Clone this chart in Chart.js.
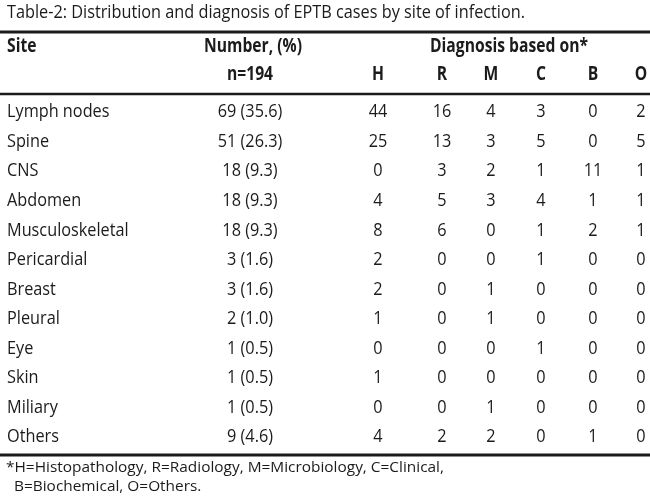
<!DOCTYPE html>
<html>
<head>
<meta charset="utf-8">
<script src="https://cdn.jsdelivr.net/npm/chart.js@4.4.1/dist/chart.umd.min.js"></script>
<style>
  html, body { margin: 0; padding: 0; background: #fff; }
  #wrap { width: 650px; height: 504px; }
</style>
</head>
<body>
<div id="wrap"><canvas id="table" width="650" height="504"></canvas></div>
<script>
// table data
const sites = ["Lymph nodes", "Spine", "CNS", "Abdomen", "Musculoskeletal", "Pericardial",
  "Breast", "Pleural", "Eye", "Skin", "Miliary", "Others"];
const counts = [69, 51, 18, 18, 18, 3, 3, 2, 1, 1, 1, 9];
const percents = [35.6, 26.3, 9.3, 9.3, 9.3, 1.6, 1.6, 1.0, 0.5, 0.5, 0.5, 4.6];
const histo = [44, 25, 0, 4, 8, 2, 2, 1, 0, 1, 0, 4];
const radio = [16, 13, 3, 5, 6, 0, 0, 0, 0, 0, 0, 2];
const micro = [4, 3, 2, 3, 0, 0, 1, 1, 0, 0, 1, 2];
const clinical = [3, 5, 1, 4, 1, 1, 0, 0, 1, 0, 0, 0];
const biochem = [0, 0, 11, 1, 2, 0, 0, 0, 0, 0, 0, 1];
const others = [2, 5, 1, 1, 1, 0, 0, 0, 0, 0, 0, 0];
const diagCodes = ["H", "R", "M", "C", "B", "O"];

const title = "Table-2: Distribution and diagnosis of EPTB cases by site of infection.";
const footnote = ["*H=Histopathology, R=Radiology, M=Microbiology, C=Clinical,",
  "B=Biochemical, O=Others."];

/* layout (pixels) */
const colX = { site: 7, number: 250, diag: [378, 442, 491, 541, 593, 641] };
const FONT = '"Open Sans", "Liberation Sans", sans-serif';
const INK = "#1b1b1b";

const numberText = counts.map((c, i) => c + " (" + percents[i].toFixed(1) + ")");
const diagSeries = [histo, radio, micro, clinical, biochem, others];

function column(x, texts, align) {
  return {
    data: sites.map(s => ({ x: x, y: s })),
    texts: texts,
    align: align,
    pointRadius: 0,
    pointHoverRadius: 0
  };
}

const datasets = [
  column(colX.site, sites, "left"),
  column(colX.number, numberText, "center")
].concat(diagSeries.map((vals, k) => column(colX.diag[k], vals.map(String), "center")));

function put(ctx, text, x, y, font, align, sx) {
  ctx.save();
  ctx.font = font;
  ctx.textAlign = align;
  ctx.textBaseline = "middle";
  ctx.translate(x, y);
  ctx.scale(sx, 1);
  ctx.fillText(text, 0, 0);
  ctx.restore();
}

function rule(ctx, y, w) {
  ctx.fillStyle = INK;
  ctx.fillRect(0, y - w / 2, 650, w);
}

const tablePlugin = {
  id: "tableText",
  afterDraw(chart) {
    const ctx = chart.ctx;
    const reg = "19px " + FONT;
    const bold = "bold 19px " + FONT;
    const foot = "15px " + FONT;

    // squeeze the font to the condensed width of the original
    ctx.save();
    ctx.font = reg;
    const sxReg = 518 / ctx.measureText(title).width;
    ctx.font = bold;
    const sxBold = 158 / ctx.measureText("Diagnosis based on*").width;
    ctx.font = foot;
    const sxFoot = 438 / ctx.measureText(footnote[0]).width;
    ctx.restore();

    ctx.fillStyle = INK;
    put(ctx, title, 7, 13, reg, "left", sxReg);

    rule(ctx, 32, 3);
    put(ctx, "Site", colX.site, 47, bold, "left", sxBold);
    put(ctx, "Number, (%)", 253, 47, bold, "center", sxBold);
    put(ctx, "Diagnosis based on*", 509, 47, bold, "center", sxBold);
    put(ctx, "n=194", colX.number, 75, bold, "center", sxBold);
    diagCodes.forEach((c, k) => put(ctx, c, colX.diag[k], 75, bold, "center", sxBold));
    rule(ctx, 94, 2.5);

    chart.data.datasets.forEach((ds, d) => {
      const meta = chart.getDatasetMeta(d);
      meta.data.forEach((pt, i) => {
        ctx.fillStyle = INK;
        put(ctx, ds.texts[i], pt.x, pt.y, reg, ds.align, sxReg);
      });
    });

    rule(ctx, 455, 3);
    ctx.fillStyle = INK;
    put(ctx, footnote[0], 6, 468, foot, "left", sxFoot);
    put(ctx, footnote[1], 14, 487, foot, "left", sxFoot);
  }
};

new Chart(document.getElementById("table"), {
  type: "scatter",
  data: { datasets },
  options: {
    responsive: false,
    animation: false,
    events: [],
    layout: { padding: { top: 97.2, bottom: 52.2, left: 0, right: 0 } },
    scales: {
      x: { type: "linear", min: 0, max: 650, display: false },
      y: { type: "category", labels: sites, offset: true, display: false }
    },
    plugins: {
      legend: { display: false },
      tooltip: { enabled: false },
      title: { display: false }
    }
  },
  plugins: [tablePlugin]
});
</script>
</body>
</html>
